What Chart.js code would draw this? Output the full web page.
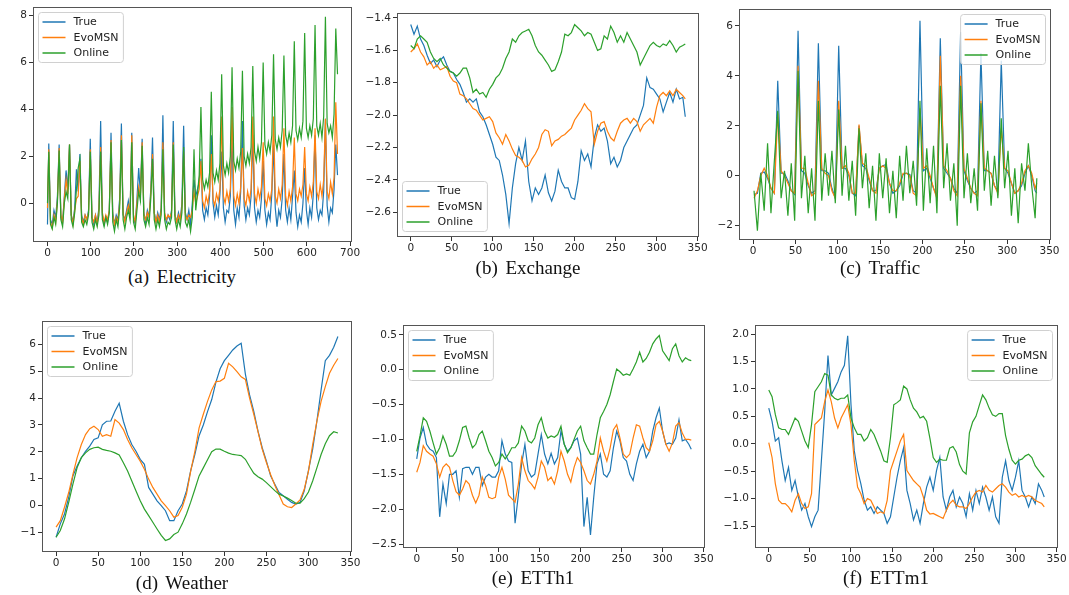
<!DOCTYPE html>
<html>
<head>
<meta charset="utf-8">
<script src="https://cdn.jsdelivr.net/npm/chart.js@4.4.1/dist/chart.umd.min.js"></script>
<style>
html, body { margin: 0; padding: 0; background: #fff; width: 1069px; height: 595px; overflow: hidden; position: relative; }
canvas { position: absolute; }
.cap { position: absolute; font-family: "Liberation Serif", "DejaVu Serif", serif; font-size: 19px; color: #111;
       transform: translate(-50%, -50%); white-space: nowrap; word-spacing: 3px; }
</style>
</head>
<body>
<script>
/* time index helpers (the x positions of the samples) */
function timeIndex(first, step, lastRegular, extra) {
  const xs = [];
  for (let t = first; t <= lastRegular; t += step) xs.push(t);
  if (extra !== undefined) xs.push(extra);
  return xs;
}
const elecX = [0].concat(timeIndex(3, 4, 671));
const dayX = timeIndex(0, 4, 332, 335);
const trafX = timeIndex(1, 4, 333, 335);
const weathX = timeIndex(0, 5, 335);

const seriesNames = ['True', 'EvoMSN', 'Online'];
const seriesColors = ['#1f77b4', '#ff7f0e', '#2ca02c'];

/* tick labels */
const elecTicksX = [0, 100, 200, 300, 400, 500, 600, 700];
const elecTicksY = [0, 2, 4, 6, 8];
const stdTicksX = [0, 50, 100, 150, 200, 250, 300, 350];
const exchTicksY = [-2.6, -2.4, -2.2, -2.0, -1.8, -1.6, -1.4];
const trafTicksY = [-2, 0, 2, 4, 6];
const weathTicksY = [-1, 0, 1, 2, 3, 4, 5, 6];
const etth1TicksY = [-2.5, -2.0, -1.5, -1.0, -0.5, 0.0, 0.5];
const ettm1TicksY = [-1.5, -1.0, -0.5, 0.0, 0.5, 1.0, 1.5, 2.0];

/* (a) Electricity */
const elecTrue = [-0.9,
  2.55, -0.7, -0.9, -0.3, -0.6, 0.3,
  2.5, -0.6, -0.8, 0.3, 1.4, 0.6,
  2.5, -0.5, -0.8, -0.2, 1.45, 0.5,
  2.1, -0.5, -0.8, -0.5, -0.7, -0.3,
  2.75, -0.6, -0.9, -0.5, -0.8, -0.2,
  3.5, -0.5, -0.9, -0.6, -0.8, -0.3,
  3.0, -0.4, -0.9, -0.5, -0.7, 0.2,
  3.4, -0.5, -0.7, -0.3, 0.1, -0.5,
  3.0, -0.6, -0.9, 0.2, 1.5, 0.4,
  2.75, -0.4, -0.8, -0.3, -0.6, 0.6,
  2.8, -0.4, -0.8, -0.4, -0.7, -0.2,
  3.75, -0.5, -0.8, -0.5, -0.7, -0.3,
  3.5, -0.5, -0.8, -0.4, -0.7, 0.0,
  3.3, -0.4, -0.7, -0.3, -0.9, 0.0,
  1.0, 0.3, 0.6, 0.9,
  1.9, -0.3, -0.7, -0.2, -0.5, 0.3,
  2.9, 0.0, -0.6, -0.1, -0.5, 0.4,
  2.2, -0.2, -0.8, -0.3, -0.4, 0.3,
  2.8, -0.3, -0.9, -0.2, -0.6, 0.5,
  3.5, -0.1, -0.7, -0.2, -0.5, 0.3,
  2.9, -0.2, -0.8, -0.3, -0.6, 0.2,
  1.8, -0.3, -0.9, -0.4, -0.7, 0.4,
  2.5, -0.2, -1.0, -0.3, -0.6, 0.2,
  2.1, -0.3, -0.8, -0.2, -0.7, 0.3,
  1.4, -0.4, -1.0, -0.5, -0.8, 0.0,
  1.5, -0.3, -0.9, -0.2, -0.6, 0.4,
  2.9, -0.2, -0.7, -0.3, -0.5, 0.5,
  3.6, -0.1, -0.8, -0.2, -0.4, 0.6,
  2.5, 1.2];
const elecEvo = [-0.2,
  2.3, -0.8, -1.05, -0.5, -0.8, 0.1,
  2.35, -0.5, -0.8, 0.2, 1.0, 0.4,
  2.5, -0.5, -0.9, -0.3, 0.2, 0.3,
  1.8, -0.6, -0.9, -0.5, -0.7, -0.4,
  2.3, -0.6, -0.8, -0.5, -0.9, -0.3,
  2.4, -0.4, -0.8, -0.5, -0.7, -0.3,
  2.7, -0.5, -0.9, -0.6, -0.8, 0.0,
  2.9, -0.4, -0.8, -0.4, -0.1, -0.5,
  2.9, -0.5, -0.8, 0.0, 0.7, 0.3,
  2.6, -0.5, -0.7, -0.4, -0.6, 0.4,
  2.1, -0.4, -0.8, -0.5, -0.8, -0.3,
  2.6, -0.4, -0.7, -0.5, -0.6, -0.4,
  2.6, -0.5, -0.8, -0.5, -0.7, -0.2,
  2.2, -0.5, -0.7, -0.5, -0.6, -0.3,
  0.5, 0.0, 0.3, 0.6,
  1.8, 0.1, -0.2, 0.3, 0.0, 0.5,
  2.1, 0.2, -0.1, 0.4, 0.1, 0.6,
  3.7, 0.3, 0.0, 0.5, 0.1, 0.6,
  4.1, 0.3, -0.1, 0.4, 0.0, 0.7,
  2.35, 0.2, -0.1, 0.5, 0.1, 0.6,
  3.7, 0.4, 0.0, 0.6, 0.2, 0.7,
  2.6, 0.2, -0.1, 0.4, 0.1, 0.6,
  3.7, 0.3, 0.0, 0.6, 0.2, 0.8,
  3.2, 0.3, -0.1, 0.5, 0.1, 0.7,
  2.8, 0.4, 0.1, 0.6, 0.3, 0.8,
  2.4, 0.4, 0.1, 0.7, 0.3, 0.9,
  3.2, 0.5, 0.2, 0.8, 0.3, 1.0,
  3.6, 0.5, 0.2, 0.9, 0.4, 1.1,
  4.3, 2.1];
const elecOnline = [0.0,
  2.2, -0.9, -1.1, -0.6, -0.9, 0.0,
  2.25, -0.7, -1.0, 0.0, 0.5, 0.2,
  2.5, -0.7, -1.0, -0.4, 0.6, 1.5,
  1.9, -0.8, -1.0, -0.7, -0.9, -0.5,
  2.2, -0.8, -1.1, -0.7, -1.0, -0.5,
  2.2, -0.7, -1.0, -0.6, -0.9, -0.4,
  2.6, -0.8, -1.2, -0.7, -1.0, -0.2,
  2.7, -0.7, -1.1, -0.6, -0.3, -0.7,
  2.6, -0.8, -1.1, -0.3, 0.5, 0.1,
  2.45, -0.7, -1.0, -0.6, -0.9, 0.2,
  1.9, -0.7, -1.1, -0.7, -1.0, -0.5,
  2.3, -0.7, -1.1, -0.8, -0.9, -0.6,
  2.5, -0.7, -1.1, -0.7, -1.0, -0.4,
  2.4, -0.8, -1.0, -0.7, -1.2, -0.6,
  2.3, -0.3, 0.4, 1.2,
  4.1, 1.0, 0.6, 1.0, 0.7, 1.3,
  4.75, 1.3, 0.9, 1.4, 1.0, 1.7,
  5.5, 1.6, 1.2, 1.7, 1.3, 2.0,
  5.8, 1.8, 1.4, 1.9, 1.5, 2.2,
  5.65, 2.0, 1.6, 2.1, 1.7, 2.4,
  5.85, 2.2, 1.8, 2.4, 1.9, 2.6,
  6.0, 2.5, 2.1, 2.6, 2.2, 2.9,
  6.35, 2.7, 2.3, 2.8, 2.4, 3.1,
  6.3, 2.9, 2.5, 3.0, 2.6, 3.3,
  6.9, 3.1, 2.7, 3.2, 2.8, 3.5,
  7.25, 3.2, 2.8, 3.3, 2.9, 3.6,
  7.6, 3.3, 2.9, 3.4, 2.8, 3.7,
  7.95, 3.4, 3.0, 3.3, 2.8, 3.8,
  7.45, 5.5];

/* (b) Exchange */
const exchTrue = [-1.44, -1.50, -1.45, -1.53, -1.57, -1.63, -1.68, -1.66, -1.70, -1.66, -1.64, -1.69, -1.73, -1.74,
  -1.78, -1.81, -1.86, -1.92, -1.90, -1.92, -1.90, -1.98, -2.01, -2.06, -2.12, -2.18, -2.26, -2.28, -2.37, -2.49,
  -2.67, -2.45, -2.30, -2.20, -2.28, -2.16, -2.41, -2.53, -2.45, -2.49, -2.45, -2.37, -2.48, -2.53, -2.47, -2.34,
  -2.41, -2.45, -2.45, -2.51, -2.52, -2.41, -2.22, -2.28, -2.24, -2.32, -2.14, -2.06, -2.10, -2.08, -2.16, -2.30,
  -2.26, -2.32, -2.28, -2.20, -2.16, -2.12, -2.08, -2.06, -2.00, -1.94, -1.77, -1.83, -1.84, -1.87, -1.90, -1.98,
  -1.92, -1.86, -1.92, -1.84, -1.90, -1.89, -2.01];
const exchEvo = [-1.61, -1.59, -1.56, -1.61, -1.64, -1.69, -1.67, -1.71, -1.69, -1.72, -1.71, -1.70, -1.76, -1.79,
  -1.80, -1.87, -1.88, -1.90, -1.93, -1.96, -1.97, -2.00, -2.03, -2.02, -2.01, -2.04, -2.11, -2.14, -2.18, -2.12,
  -2.16, -2.21, -2.25, -2.26, -2.28, -2.32, -2.31, -2.27, -2.24, -2.20, -2.12, -2.09, -2.10, -2.19, -2.16, -2.15,
  -2.13, -2.12, -2.10, -2.08, -2.03, -2.00, -1.97, -1.93, -1.96, -1.98, -2.18, -2.10, -2.05, -2.04, -2.10, -2.14,
  -2.16, -2.10, -2.05, -2.03, -2.02, -2.05, -2.02, -2.04, -2.10, -2.06, -2.04, -2.02, -2.05, -1.95, -1.88, -1.86,
  -1.88, -1.85, -1.88, -1.84, -1.86, -1.88, -1.90];
const exchOnline = [-1.57, -1.59, -1.53, -1.51, -1.53, -1.55, -1.61, -1.65, -1.67, -1.65, -1.69, -1.71, -1.73, -1.74,
  -1.76, -1.74, -1.71, -1.71, -1.77, -1.86, -1.84, -1.87, -1.86, -1.89, -1.84, -1.81, -1.77, -1.75, -1.71, -1.65,
  -1.61, -1.53, -1.55, -1.51, -1.49, -1.48, -1.47, -1.51, -1.57, -1.61, -1.63, -1.66, -1.69, -1.73, -1.72, -1.67,
  -1.61, -1.50, -1.51, -1.49, -1.44, -1.46, -1.48, -1.51, -1.49, -1.50, -1.55, -1.60, -1.59, -1.51, -1.53, -1.45,
  -1.49, -1.55, -1.51, -1.55, -1.49, -1.53, -1.57, -1.61, -1.69, -1.65, -1.61, -1.57, -1.55, -1.57, -1.58, -1.56,
  -1.57, -1.54, -1.57, -1.61, -1.58, -1.57, -1.56];

/* (c) Traffic */
const trafTrue = [-0.75, -0.7, 0.1, 0.15, -0.1, -0.5, -0.7, 3.8, 0.1, 0.1, -0.2, -0.6, -0.75, 5.8, 0.2, 0.1, -0.4,
  -0.7, -0.6, 5.3, 0.2, 0.2, 0.1, -0.5, -0.9, 5.2, 0.3, 0.3, 0.0, -0.7, -0.8, 2.0, 0.4, 0.3, -0.2, -0.6, -0.6, 0.3,
  0.4, 0.45, -0.3, -0.7, -0.6, -0.4, 0.05, 0.1, 0.05, -0.6, -0.7, 6.2, 0.2, 0.3, -0.1, -0.5, -0.8, 5.5, 0.3, 0.1,
  -0.1, -0.5, -0.7, 5.75, 0.2, -0.2, -0.5, -0.7, -0.6, 4.9, 0.2, 0.2, 0.1, -0.4, -0.6, 4.6, 0.3, 0.1, -0.3, -0.7,
  -0.6, -0.4, 0.1, 0.4, 0.0, -0.6, -0.7];
const trafEvo = [-0.9, -0.6, 0.0, 0.3, 0.0, -0.5, -0.7, 2.5, 0.2, 0.0, -0.3, -0.6, -0.7, 4.4, 0.3, 0.3, -0.3, -0.8,
  -0.7, 3.8, 0.3, 0.1, 0.0, -0.6, -0.9, 3.0, 0.3, 0.4, 0.1, -0.7, -0.7, 2.05, 0.5, 0.4, -0.1, -0.6, -0.7, 0.3, 0.4,
  0.3, -0.3, -0.6, -0.6, -0.3, 0.1, 0.1, 0.0, -0.7, -0.8, 2.7, 0.3, 0.4, 0.0, -0.5, -0.9, 4.8, 0.4, 0.2, -0.1, -0.6,
  -0.8, 4.0, 0.3, -0.1, -0.5, -0.7, -0.8, 3.0, 0.3, 0.2, 0.1, -0.4, -0.7, 1.9, 0.3, 0.2, -0.3, -0.7, -0.6, -0.3,
  0.2, 0.4, 0.1, -0.5, -0.3];
const trafOnline = [-0.6, -2.2, 0.1, -1.4, 1.3, -1.5, 0.6, 2.6, -0.9, 0.2, -1.6, 0.5, -1.8, 4.2, -0.9, 0.8, -1.5,
  0.3, -1.8, 3.0, -1.0, 0.9, -0.8, 1.0, -1.1, 2.65, -0.8, 1.2, -1.0, 0.6, -1.6, 1.9, -0.5, 0.9, -1.3, 0.4, -1.8,
  0.9, -0.9, 0.7, -1.5, 0.2, -1.7, 0.8, -1.0, 1.2, -0.7, 0.6, -1.2, 3.0, -1.4, 1.1, -1.1, 1.2, -1.5, 3.6, -0.5, 1.3,
  -1.0, 0.5, -2.0, 3.6, -0.9, 0.9, -1.1, 0.3, -1.4, 2.9, -0.6, 1.0, -1.2, 0.8, -0.9, 2.3, -0.5, 1.0, -1.6, 0.3,
  -1.9, 0.5, -0.6, 1.3, -0.4, -1.7, -0.1];

/* (d) Weather */
const weathTrue = [-1.19, -0.69, -0.32, 0.30, 1.10, 1.47, 1.78, 2.02, 2.21, 2.46, 2.52, 3.01, 3.14, 3.15, 3.51, 3.81,
  3.14, 2.64, 2.27, 2.02, 1.72, 1.53, 0.67, 0.42, 0.17, -0.01, -0.20, -0.57, -0.57, -0.20, 0.05, 0.54, 1.3, 1.9,
  2.6, 3.0, 3.5, 3.95, 4.6, 5.1, 5.4, 5.6, 5.8, 5.95, 6.05, 4.9, 4.12, 3.51, 2.77, 2.15, 1.65, 1.10, 0.79, 0.48,
  0.36, 0.23, 0.11, 0.05, 0.11, 0.54, 1.3, 2.1, 3.14, 4.3, 5.4, 5.6, 5.9, 6.3];
const weathEvo = [-0.81, -0.57, -0.07, 0.48, 1.16, 1.78, 2.27, 2.64, 2.86, 2.95, 2.83, 2.58, 2.64, 2.58, 3.20, 3.07,
  2.83, 2.46, 2.15, 1.90, 1.65, 1.35, 0.98, 0.67, 0.42, 0.17, -0.01, -0.20, -0.44, -0.38, -0.07, 0.42, 1.28, 2.02,
  2.89, 3.4, 3.88, 4.31, 4.62, 4.64, 4.74, 5.3, 5.17, 4.99, 4.8, 4.7, 4.0, 3.4, 2.75, 2.1, 1.6, 1.15, 0.75, 0.4,
  0.05, -0.05, -0.08, 0.05, 0.2, 0.6, 1.28, 2.27, 3.14, 3.88, 4.43, 4.93, 5.23, 5.48];
const weathOnline = [-1.19, -0.94, -0.51, 0.11, 0.79, 1.41, 1.78, 1.96, 2.09, 2.15, 2.17, 2.09, 2.05, 2.02, 1.96,
  1.88, 1.59, 1.28, 0.91, 0.54, 0.17, -0.14, -0.38, -0.63, -0.88, -1.12, -1.31, -1.25, -1.09, -1.0, -0.69, -0.32,
  0.12, 0.6, 1.1, 1.4, 1.7, 2.0, 2.1, 2.1, 2.02, 1.95, 1.9, 1.88, 1.86, 1.72, 1.45, 1.2, 1.07, 0.98, 0.85, 0.7,
  0.55, 0.42, 0.35, 0.27, 0.18, 0.08, 0.08, 0.25, 0.5, 0.91, 1.4, 1.9, 2.3, 2.6, 2.75, 2.7];

/* (e) ETTh1 */
const etth1True = [-1.28, -0.98, -0.83, -1.07, -1.14, -1.17, -1.26, -2.11, -1.64, -1.92, -1.50, -1.50, -1.45, -1.83,
  -1.42, -1.40, -1.40, -1.50, -1.40, -1.40, -1.66, -1.54, -1.50, -1.54, -1.54, -1.45, -1.02, -1.21, -1.31, -1.33,
  -2.2, -1.8, -1.35, -1.07, -1.45, -1.54, -1.50, -1.21, -0.93, -1.21, -1.35,
  -1.2, -1.35, -1.26, -0.88, -1.07, -1.17, -1.12, -1.02, -0.98, -1.21, -2.25, -1.83, -2.37, -1.83, -1.35, -1.21,
  -1.50, -1.54, -1.45, -1.12, -0.88, -1.02, -1.26, -1.31, -1.50, -1.59, -1.35, -1.17, -1.07, -1.26, -1.17, -0.88,
  -0.69, -0.55, -0.88, -1.07, -1.05, -1.07, -0.98, -0.72, -1.02, -1.0, -1.07, -1.14];
const etth1Evo = [-1.47, -1.33, -1.09, -1.17, -1.21, -1.24, -1.35, -1.54, -1.40, -1.35, -1.40, -1.59, -1.75, -1.80,
  -1.71, -1.59, -1.64, -1.80, -1.91, -1.80, -1.54, -1.66, -1.83, -1.85, -1.83, -1.54, -1.40, -1.57, -1.80, -1.85,
  -1.90, -1.64, -1.26, -1.45, -1.59, -1.64, -1.71, -1.54, -1.31, -1.40, -1.59,
  -1.54, -1.64, -1.45, -1.17, -1.31, -1.50, -1.61, -1.40, -1.26, -1.33, -1.45, -1.59, -1.64, -1.50, -1.31, -0.98,
  -1.17, -1.31, -1.12, -0.86, -0.79, -0.98, -1.21, -1.26, -1.21, -0.98, -0.79, -0.81, -0.98, -1.12, -1.17, -1.02,
  -0.79, -0.74, -0.88, -1.07, -1.17, -1.05, -0.81, -0.76, -0.91, -1.0, -1.0, -1.01];
const etth1Online = [-1.17, -0.95, -0.69, -0.74, -0.88, -1.05, -1.21, -1.12, -0.95, -1.07, -1.24, -1.24, -1.17, -1.02,
  -0.83, -0.81, -0.98, -1.12, -1.07, -0.93, -0.88, -1.02, -1.17, -1.26, -1.38, -1.33, -1.21, -1.28, -1.21, -1.12,
  -1.12, -1.05, -0.81, -0.88, -1.02, -1.05, -0.98, -0.79, -0.69, -0.88, -0.98,
  -0.95, -0.97, -0.93, -0.81, -1.07, -1.19, -1.12, -1.0, -0.88, -0.81, -1.02, -1.12, -1.21, -1.21, -0.93, -0.69,
  -0.60, -0.50, -0.36, -0.17, 0.01, -0.03, -0.08, -0.06, -0.08, 0.01, 0.11, 0.25, 0.11, 0.16, 0.25, 0.37, 0.44,
  0.49, 0.27, 0.20, 0.13, 0.30, 0.37, 0.20, 0.11, 0.17, 0.14, 0.13];

/* (f) ETTm1 */
const ettm1True = [0.65, 0.41, 0.05, 0.11, -0.31, -0.67, -0.43, -0.85, -0.67, -0.97, -1.21, -1.09, -1.33, -1.51,
  -1.33, -1.21, -0.31, 0.59, 1.61, 0.89, 1.01, 1.13, 1.31, 1.43, 1.97, 0.71, -0.13, -0.49, -0.73, -1.03, -1.21,
  -1.15, -1.27, -1.15, -1.21, -1.27, -1.45, -1.33,
  -0.97, -0.61, -0.31, -0.07, -0.85, -1.09, -1.39, -1.21, -1.45, -1.09, -0.79, -0.61, -0.85, -0.49, -0.25, -0.97,
  -1.21, -0.97, -0.85, -1.15, -0.97, -1.09, -1.33, -0.91, -1.21, -0.85, -1.09, -0.79, -0.97, -1.21, -0.97, -1.33,
  -1.45, -0.61, -0.31, -0.67, -0.85, -0.61, -0.31, -0.85, -0.97, -1.15, -0.97, -1.09, -0.73, -0.85, -0.97];
const ettm1Evo = [0.02, -0.25, -0.73, -1.03, -1.09, -1.09, -1.15, -1.24, -1.03, -0.91, -1.09, -1.18, -1.15, -0.91,
  0.35, 0.41, 0.47, 0.77, 0.98, 0.77, 0.47, 0.29, 0.47, 0.59, 0.71, 0.35, -0.31, -0.79, -0.91, -1.09, -1.0, -1.03,
  -1.15, -1.27, -1.24, -1.27, -1.03, -0.49,
  -0.31, -0.13, 0.05, 0.17, -0.49, -0.58, -0.67, -0.73, -0.79, -0.97, -1.21, -1.28, -1.27, -1.30, -1.33, -1.36,
  -1.21, -1.09, -1.03, -1.12, -1.15, -1.15, -1.18, -1.09, -0.97, -0.88, -0.85, -0.88, -0.76, -0.85, -0.88, -0.82,
  -0.76, -0.73, -0.79, -0.88, -0.94, -0.91, -0.97, -0.94, -0.97, -0.94, -0.97, -1.03, -1.06, -1.09, -1.15];
const ettm1Online = [0.98, 0.86, 0.53, 0.29, 0.26, 0.26, 0.17, 0.32, 0.47, 0.41, 0.23, 0.05, -0.07, 0.35, 0.95,
  1.04, 1.13, 1.28, 1.25, 0.89, 0.83, 0.80, 0.83, 0.83, 0.89, 0.47, 0.29, 0.17, 0.17, 0.05, 0.11, 0.26, 0.17, 0.02,
  -0.13, -0.31, -0.34, 0.11,
  0.71, 0.75, 0.80, 1.05, 1.0, 0.8, 0.65, 0.58, 0.47, 0.5, 0.41, 0.1, -0.25, -0.34, -0.28, -0.3, -0.3, -0.08, -0.05,
  -0.15, -0.38, -0.5, -0.55, 0.2, 0.4, 0.5, 0.7, 0.89, 0.8, 0.65, 0.53, 0.5, 0.55, 0.55, 0.15, -0.1, -0.3, -0.37,
  -0.3, -0.28, -0.22, -0.19, -0.25, -0.4, -0.48, -0.56, -0.61];

/* layout of the six panels: frame = [left, top, right, bottom] of the plot box in page pixels */
const panels = [
  { caption: '(a) Electricity', cap: [182, 277], frame: [33, 5, 352, 242], yw: 30, legend: 'ul',
    x: elecX, series: [elecTrue, elecEvo, elecOnline], xRange: [-33.5, 704.5], xTicks: elecTicksX,
    yRange: [-1.65, 8.35], yTicks: elecTicksY, dec: 0 },
  { caption: '(b) Exchange', cap: [528, 268], frame: [397, 11, 699, 237], yw: 38, legend: 'll',
    x: dayX, series: [exchTrue, exchEvo, exchOnline], xRange: [-16.75, 351.75], xTicks: stdTicksX,
    yRange: [-2.753, -1.371], yTicks: exchTicksY, dec: 1 },
  { caption: '(c) Traffic', cap: [880, 268], frame: [739, 7, 1051, 240], yw: 28, legend: 'ur',
    x: trafX, series: [trafTrue, trafEvo, trafOnline], xRange: [-16.75, 351.75], xTicks: stdTicksX,
    yRange: [-2.57, 6.66], yTicks: trafTicksY, dec: 0 },
  { caption: '(d) Weather', cap: [182, 583], frame: [42, 319, 352, 552], yw: 28, legend: 'ul',
    x: weathX, series: [weathTrue, weathEvo, weathOnline], xRange: [-16.75, 351.75], xTicks: stdTicksX,
    yRange: [-1.74, 6.87], yTicks: weathTicksY, dec: 0 },
  { caption: '(e) ETTh1', cap: [533, 578], frame: [403, 323, 705, 548], yw: 38, legend: 'ul',
    x: dayX, series: [etth1True, etth1Evo, etth1Online], xRange: [-16.75, 351.75], xTicks: stdTicksX,
    yRange: [-2.557, 0.636], yTicks: etth1TicksY, dec: 1 },
  { caption: '(f) ETTm1', cap: [886, 578], frame: [755, 323, 1058, 548], yw: 38, legend: 'ur',
    x: dayX, series: [ettm1True, ettm1Evo, ettm1Online], xRange: [-16.75, 351.75], xTicks: stdTicksX,
    yRange: [-1.90, 2.16], yTicks: ettm1TicksY, dec: 1 }
];

const tickFont = { family: '"DejaVu Sans", sans-serif', size: 10.5 };
const PT = 6, PR = 14, XH = 24;

function fmt(v, dec) {
  return Number(v).toFixed(dec).replace('-', '\u2212');
}

// matplotlib-like box round the plot and a legend inside it
const frameAndLegend = {
  id: 'frameAndLegend',
  afterDraw(chart, args, opts) {
    const ctx = chart.ctx, a = chart.chartArea;
    ctx.save();
    ctx.strokeStyle = '#555';
    ctx.lineWidth = 1;
    const l = Math.round(a.left) + 0.5, t = Math.round(a.top) + 0.5;
    const r = Math.round(a.right) - 0.5, b = Math.round(a.bottom) - 0.5;
    ctx.strokeRect(l, t, r - l, b - t);

    ctx.font = '11px "DejaVu Sans", sans-serif';
    const sets = chart.data.datasets;
    const tw = Math.max(...sets.map(d => ctx.measureText(d.label).width));
    const w = 35 + tw + 5, h = 50;
    const bx = opts.corner.includes('l') ? l + 5 : r - 5 - w;
    const by = opts.corner.includes('u') ? t + 5 : b - 5 - h;
    ctx.beginPath();
    const rr = 3;
    ctx.moveTo(bx + rr, by);
    ctx.arcTo(bx + w, by, bx + w, by + h, rr);
    ctx.arcTo(bx + w, by + h, bx, by + h, rr);
    ctx.arcTo(bx, by + h, bx, by, rr);
    ctx.arcTo(bx, by, bx + w, by, rr);
    ctx.closePath();
    ctx.fillStyle = 'rgba(255,255,255,0.8)';
    ctx.fill();
    ctx.strokeStyle = '#d0d0d0';
    ctx.stroke();
    sets.forEach((d, i) => {
      const y = by + 9.5 + i * 15.5;
      ctx.strokeStyle = d.borderColor;
      ctx.lineWidth = 1.5;
      ctx.beginPath();
      ctx.moveTo(bx + 4, y);
      ctx.lineTo(bx + 27, y);
      ctx.stroke();
      ctx.fillStyle = '#222';
      ctx.textBaseline = 'middle';
      ctx.fillText(d.label, bx + 35, y + 0.5);
    });
    ctx.restore();
  }
};

panels.forEach(p => {
  const [L, T, R, B] = p.frame;
  const w = R - L + p.yw + PR, h = B - T + PT + XH;
  const cv = document.createElement('canvas');
  cv.width = w; cv.height = h;
  cv.style.left = (L - p.yw) + 'px';
  cv.style.top = (T - PT) + 'px';
  cv.style.width = w + 'px';
  cv.style.height = h + 'px';
  document.body.appendChild(cv);

  const datasets = p.series.map((ys, i) => ({
    label: seriesNames[i],
    data: p.x.slice(0, ys.length).map((x, k) => ({ x: x, y: ys[k] })),
    borderColor: seriesColors[i],
    borderWidth: 1.2,
    pointRadius: 0,
    tension: 0,
    order: 3 - i
  }));

  new Chart(cv, {
    type: 'line',
    data: { datasets: datasets },
    options: {
      responsive: false,
      animation: false,
      layout: { autoPadding: false, padding: { left: 0, right: PR, top: PT, bottom: 0 } },
      plugins: { legend: { display: false }, tooltip: { enabled: false }, frameAndLegend: { corner: p.legend } },
      scales: {
        x: {
          type: 'linear', min: p.xRange[0], max: p.xRange[1],
          afterBuildTicks: s => { s.ticks = p.xTicks.map(v => ({ value: v })); },
          afterFit: s => { s.height = XH; },
          ticks: { font: tickFont, color: '#262626', padding: 1, maxRotation: 0, autoSkip: false,
                   callback: v => fmt(v, 0) },
          grid: { drawOnChartArea: false, drawTicks: true, tickLength: 4, color: '#333' },
          border: { display: false }
        },
        y: {
          type: 'linear', min: p.yRange[0], max: p.yRange[1],
          afterBuildTicks: s => { s.ticks = p.yTicks.map(v => ({ value: v })); },
          afterFit: s => { s.width = p.yw; },
          ticks: { font: tickFont, color: '#262626', padding: 2, autoSkip: false,
                   callback: v => fmt(v, p.dec) },
          grid: { drawOnChartArea: false, drawTicks: true, tickLength: 4, color: '#333' },
          border: { display: false }
        }
      }
    },
    plugins: [frameAndLegend]
  });

  const cap = document.createElement('div');
  cap.className = 'cap';
  cap.textContent = p.caption;
  cap.style.left = p.cap[0] + 'px';
  cap.style.top = p.cap[1] + 'px';
  document.body.appendChild(cap);
});
</script>
</body>
</html>
